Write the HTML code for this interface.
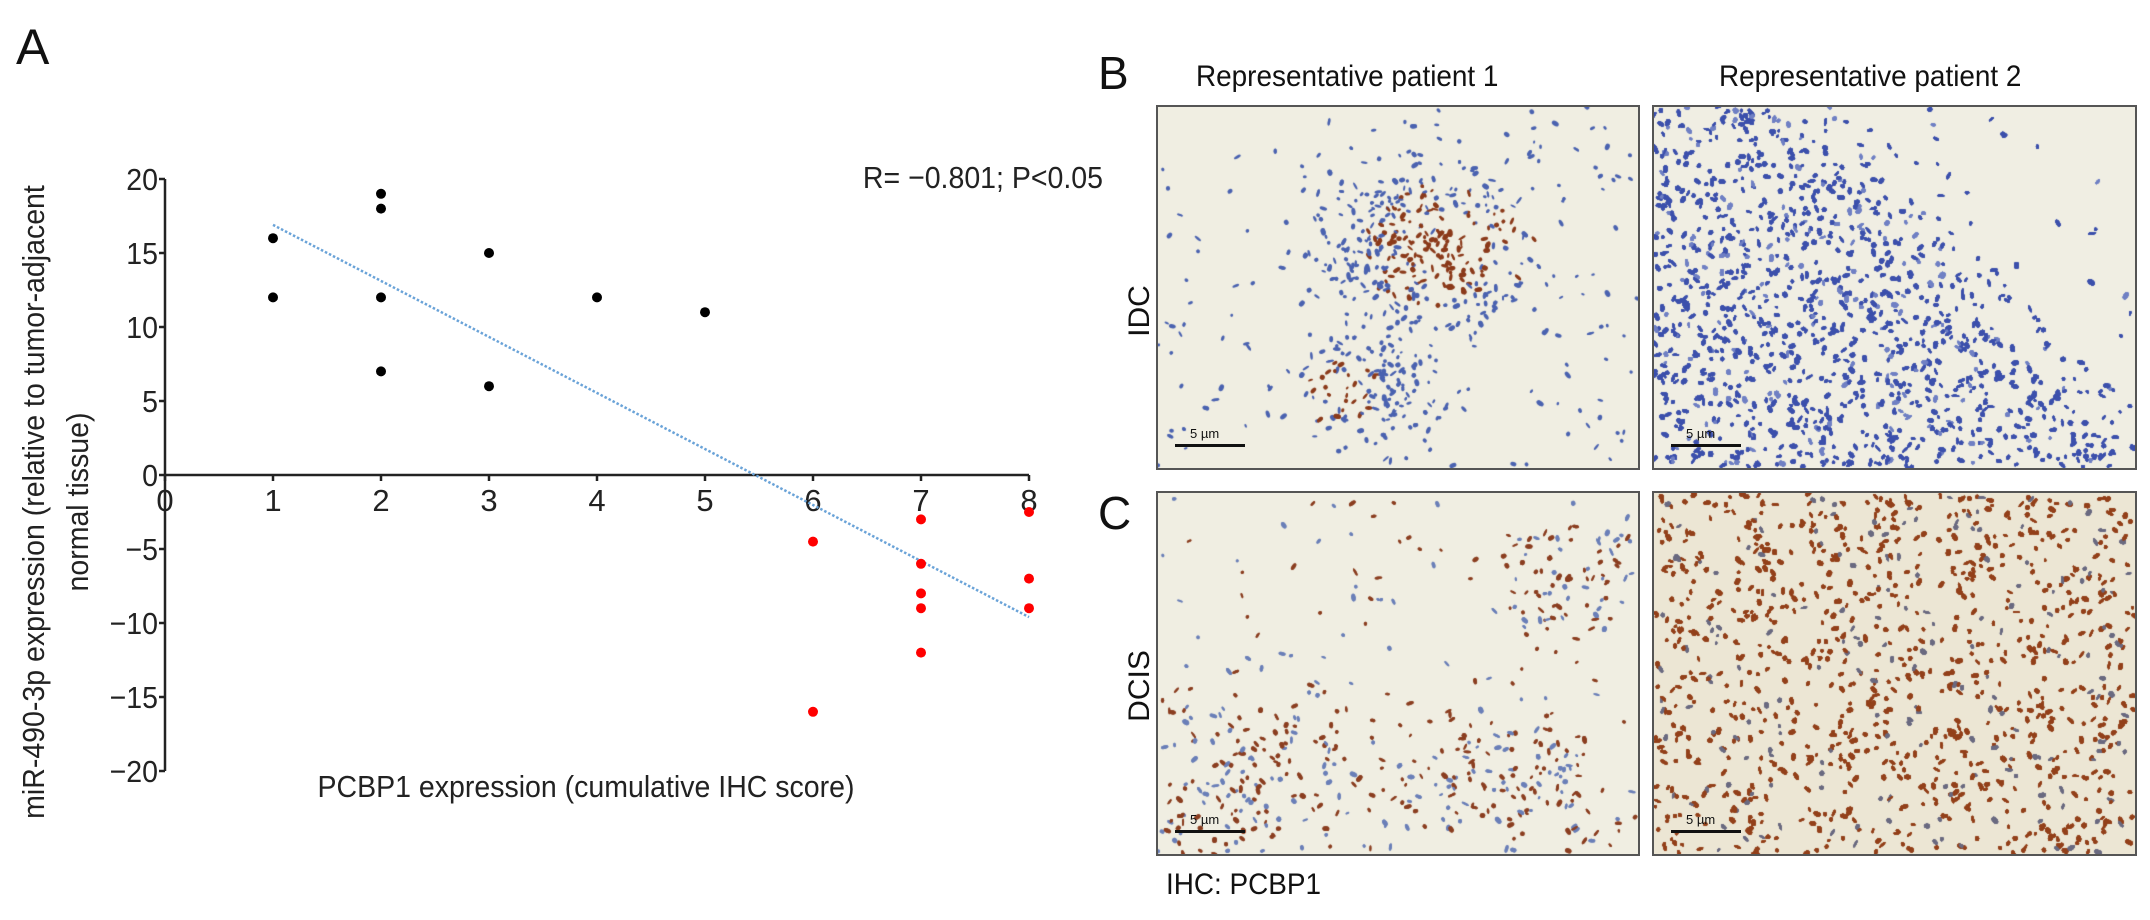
<!DOCTYPE html>
<html><head><meta charset="utf-8">
<style>
body{margin:0;background:#fff;}
#root{position:relative;width:2150px;height:920px;overflow:hidden;font-family:"Liberation Sans",sans-serif;color:#111;}
.lbl{position:absolute;white-space:nowrap;}
.panel{position:absolute;border:2px solid #555;box-sizing:border-box;background:#efece0;overflow:hidden;}
.panel canvas{position:absolute;left:0;top:0;}
.sb{position:absolute;height:3px;background:#111;}
.sbt{position:absolute;font-size:13px;color:#111;}
</style></head>
<body>
<div id="root">
<div class="lbl" style="left:16px;top:18px;font-size:50px;">A</div>
<svg id="chart" width="1150" height="920" style="position:absolute;left:0;top:0"></svg>
<div class="lbl" style="left:1098px;top:46px;font-size:46px;">B</div>
<div class="lbl" style="left:1098px;top:486px;font-size:46px;">C</div>
<div class="lbl" style="left:1196px;top:60px;font-size:30px;transform:scaleX(0.93);transform-origin:left;">Representative patient 1</div>
<div class="lbl" style="left:1719px;top:60px;font-size:30px;transform:scaleX(0.93);transform-origin:left;">Representative patient 2</div>
<div class="lbl" style="left:1140px;top:311px;font-size:30px;transform:translate(-50%,-50%) rotate(-90deg);">IDC</div>
<div class="lbl" style="left:1140px;top:686px;font-size:30px;transform:translate(-50%,-50%) rotate(-90deg);">DCIS</div>
<div class="lbl" style="left:1166px;top:868px;font-size:30px;transform:scaleX(0.93);transform-origin:left;">IHC: PCBP1</div>

<div class="panel" id="p1" style="left:1156px;top:105px;width:484px;height:365px;"></div>
<div class="panel" id="p2" style="left:1652px;top:105px;width:485px;height:365px;"></div>
<div class="panel" id="p3" style="left:1156px;top:491px;width:484px;height:365px;"></div>
<div class="panel" id="p4" style="left:1652px;top:491px;width:485px;height:365px;"></div>
</div>
<script>
// ---- chart data ----
const xTicks=[0,1,2,3,4,5,6,7,8];
const yTicks=[20,15,10,5,0,-5,-10,-15,-20];
const idcX=[1,1,2,2,2,2,3,3,4,5];
const idcY=[16,12,19,18,12,7,15,6,12,11];
const dcisX=[6,6,7,7,7,7,7,8,8,8];
const dcisY=[-4.5,-16,-3,-6,-8,-9,-12,-2.5,-7,-9];
const trendX=[1,8];
const trendY=[16.9,-9.6];

const NS='http://www.w3.org/2000/svg';
const svg=document.getElementById('chart');
const X0=165,XU=108,Y0=475,YU=14.8;
function sx(v){return X0+v*XU;}
function sy(v){return Y0-v*YU;}
function mk(t,a){const e=document.createElementNS(NS,t);for(const k in a)e.setAttribute(k,a[k]);svg.appendChild(e);return e;}

let ya=mk('line',{x1:X0,y1:sy(20),x2:X0,y2:sy(-20),stroke:'#222','stroke-width':2.5});


let xa=mk('line',{x1:X0,y1:Y0,x2:sx(8),y2:Y0,stroke:'#222','stroke-width':2.5});


yTicks.forEach(v=>{
  const t=mk('line',{x1:X0-6,y1:sy(v),x2:X0,y2:sy(v),stroke:'#222','stroke-width':2.5});
  
  
  const l=mk('text',{x:X0-7,y:sy(v)+11,'text-anchor':'end','font-size':31,'font-family':'Liberation Sans, sans-serif',fill:'#222',transform:`translate(${X0-7},0) scale(0.92,1) translate(${-(X0-7)},0)`});
  l.textContent=v<0?'\u2212'+(-v):String(v);
  
  
});
xTicks.forEach(v=>{
  const t=mk('line',{x1:sx(v),y1:Y0,x2:sx(v),y2:Y0+6,stroke:'#222','stroke-width':2.5});
  
  
  const l=mk('text',{x:sx(v),y:Y0+36,'text-anchor':'middle','font-size':31,'font-family':'Liberation Sans, sans-serif',fill:'#222'});
  l.textContent=String(v);
  
  
});
const tl=mk('line',{x1:sx(trendX[0]),y1:sy(trendY[0]),x2:sx(trendX[1]),y2:sy(trendY[1]),stroke:'#6aa3d8','stroke-width':2.5,'stroke-dasharray':'2.5 2'});


idcX.forEach((x,i)=>{
  const c=mk('circle',{cx:sx(x),cy:sy(idcY[i]),r:5,fill:'#000'});
  
  
});
dcisX.forEach((x,i)=>{
  const c=mk('circle',{cx:sx(x),cy:sy(dcisY[i]),r:5,fill:'#f00'});
  
  
});
let tx=mk('text',{x:586,y:797,'text-anchor':'middle','font-size':31,'font-family':'Liberation Sans, sans-serif',fill:'#222',transform:'translate(586,0) scale(0.92,1) translate(-586,0)'});
tx.textContent='PCBP1 expression (cumulative IHC score)';


let rt=mk('text',{x:1103,y:188,'text-anchor':'end','font-size':31,'font-family':'Liberation Sans, sans-serif',fill:'#222',transform:'translate(1103,0) scale(0.92,1) translate(-1103,0)'});
rt.textContent='R= \u22120.801; P<0.05';


let y1=mk('text',{x:0,y:0,'text-anchor':'middle','font-size':31,'font-family':'Liberation Sans, sans-serif',fill:'#222',transform:'translate(44,502) rotate(-90) scale(0.92,1)'});
y1.textContent='miR-490-3p expression (relative to tumor-adjacent';


let y2=mk('text',{x:0,y:0,'text-anchor':'middle','font-size':31,'font-family':'Liberation Sans, sans-serif',fill:'#222',transform:'translate(88,502) rotate(-90) scale(0.92,1)'});
y2.textContent='normal tissue)';



// ---- decorative micrograph textures ----
let seed=12345;function rnd(){seed=(seed*1103515245+12345)%2147483648;return seed/2147483648;}
function paint(id,densFn,colFn,n,bg){
  const p=document.getElementById(id);const w=p.clientWidth,h=p.clientHeight;
  const c=document.createElement('canvas');c.width=w;c.height=h;p.appendChild(c);
  const g=c.getContext('2d');g.fillStyle=bg;g.fillRect(0,0,w,h);
  for(let i=0;i<n;i++){const x=rnd()*w,y=rnd()*h;const d=densFn(x/w,y/h);if(rnd()>d)continue;
    g.fillStyle=colFn(x/w,y/h);g.beginPath();g.ellipse(x,y,1.5+rnd()*2.5,1+rnd()*1.5,rnd()*3,0,7);g.fill();}
  const sb=document.createElement('div');sb.className='sb';sb.style.left='17px';sb.style.top=(h-24)+'px';sb.style.width='70px';p.appendChild(sb);
  
  
  const st=document.createElement('div');st.className='sbt';st.textContent='5 \u00b5m';st.style.left='32px';st.style.top=(h-42)+'px';p.appendChild(st);
  
  
}
function bump(x,y,cx,cy,r){const d=Math.hypot(x-cx,y-cy);return Math.max(0,1-d/r);}
paint('p1',(x,y)=>0.04+0.9*Math.max(bump(x,y,0.55,0.4,0.28),bump(x,y,0.45,0.78,0.18)),
  (x,y)=>{const b=Math.max(bump(x,y,0.6,0.4,0.2),bump(x,y,0.38,0.78,0.1));return rnd()<b*1.4?'#8b3a1a':'#4a62b0';},6000,'#f0eee2');
paint('p2',(x,y)=>{const edge=0.25+0.75*y; return x<edge?0.95:(x<edge+0.12?0.4:0.03);},
  ()=>rnd()<0.85?'#3c50ac':'#7080c4',22000,'#f0eee3');
paint('p3',(x,y)=>0.05+0.7*Math.max(bump(x,y,0.2,0.8,0.3),bump(x,y,0.7,0.8,0.25),bump(x,y,0.85,0.25,0.2)),
  ()=>rnd()<0.6?'#8b3e20':'#6a7fb8',7000,'#f0eee2');
paint('p4',(x,y)=>{const r=(Math.sin(x*22)*Math.sin(y*20+x*6));return 0.35+0.5*Math.abs(r);},()=>rnd()<0.85?'#93401a':'#6a6a80',26000,'#ece6d4');
</script>
</body></html>
